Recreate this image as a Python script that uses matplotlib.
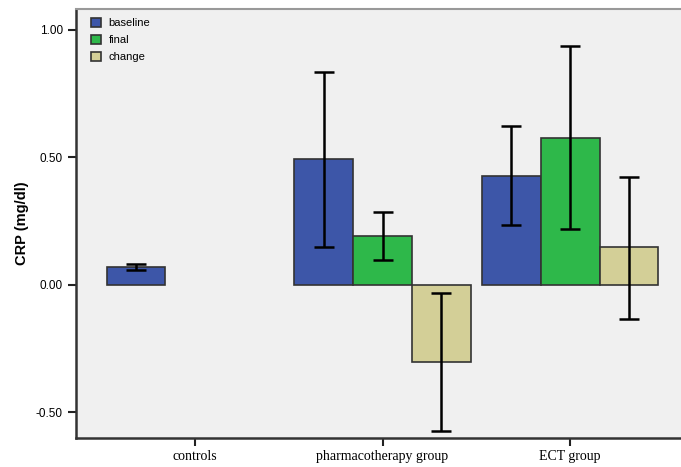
import matplotlib.pyplot as plt
import numpy as np

groups = ['controls', 'pharmacotherapy group', 'ECT group']
series = ['baseline', 'final', 'change']
colors = ['#3d56a8', '#2eb84a', '#d3cf97']

# mean values per series (None = not available)
baseline = [0.07, 0.494, 0.427]
final = [None, 0.192, 0.576]
change = [None, -0.302, 0.149]

# error bar ends (lower, upper)
baseline_err = [(0.059, 0.082), (0.149, 0.835), (0.235, 0.624)]
final_err = [None, (0.098, 0.286), (0.220, 0.937)]
change_err = [None, (-0.573, -0.031), (-0.133, 0.424)]

values = [baseline, final, change]
errors = [baseline_err, final_err, change_err]

fig = plt.figure(figsize=(6.81, 4.67), dpi=100)
ax = fig.add_axes([0.1116, 0.0621, 0.8884, 0.9186])
ax.set_facecolor('#f0f0f0')

width = 0.313
x = np.arange(len(groups))
for i, (vals, errs) in enumerate(zip(values, errors)):
    for j in range(len(groups)):
        if vals[j] is None:
            continue
        pos = x[j] + (i - 1) * width
        ax.bar(pos, vals[j], width, color=colors[i], edgecolor='#333333',
               linewidth=1.2, label=series[i] if j == 1 else None, zorder=2)
        lo, hi = errs[j]
        ax.errorbar(pos, vals[j], yerr=[[vals[j] - lo], [hi - vals[j]]],
                    fmt='none', ecolor='black', elinewidth=1.8,
                    capsize=7.5, capthick=1.8, zorder=3)

ax.set_xlim(-0.633, 2.59)
ax.set_ylim(-0.602, 1.082)
ax.set_yticks([-0.5, 0.0, 0.5, 1.0])
ax.set_yticklabels(['-0.50', '0.00', '0.50', '1.00'], family='Liberation Sans', fontsize=8.5)
ax.set_xticks(x)
ax.set_xticklabels(groups, family='Liberation Serif', fontsize=10)
ax.tick_params(axis='both', length=6, width=1.5, color='#222222')
ax.tick_params(axis='x', pad=3)
ax.set_ylabel('CRP (mg/dl)', family='Liberation Sans', fontweight='bold', fontsize=10.5, labelpad=5)

for s in ['left', 'bottom']:
    ax.spines[s].set_color('#333333')
    ax.spines[s].set_linewidth(1.8)
ax.spines['top'].set_color('#999999')
ax.spines['top'].set_linewidth(1.5)
ax.spines['right'].set_visible(False)

ax.legend(loc='upper left', frameon=False, prop={'family': 'Liberation Sans', 'size': 8},
          handlelength=0.9, handleheight=0.9, handletextpad=0.7, labelspacing=0.58,
          borderaxespad=0.4, bbox_to_anchor=(0.01, 1.0))

fig.savefig('out.png', dpi=100)
